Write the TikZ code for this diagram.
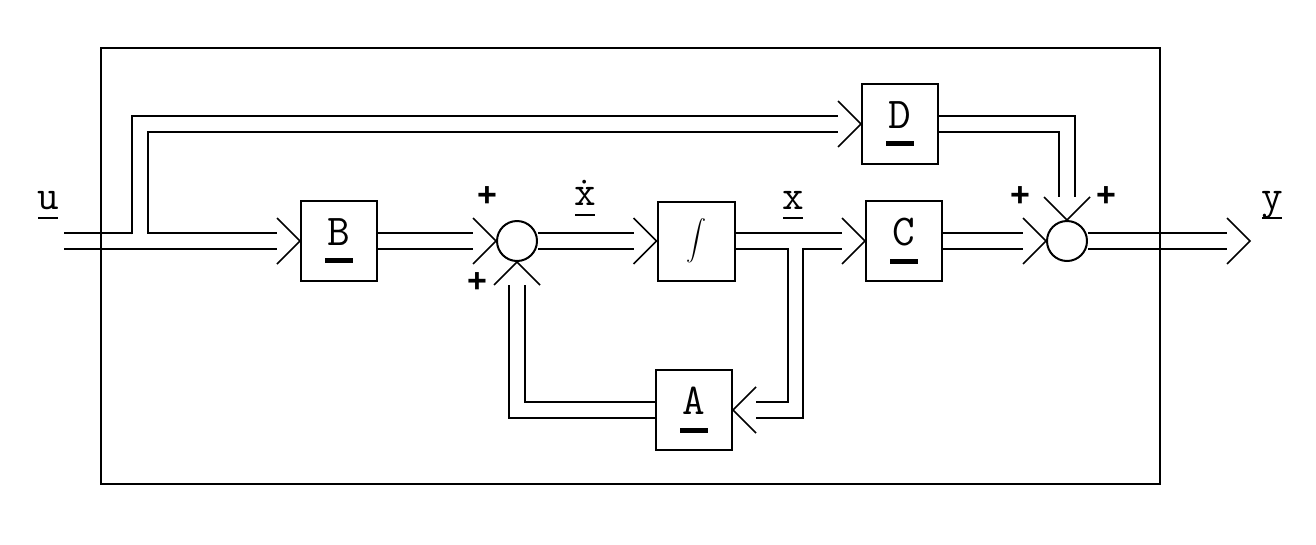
\documentclass[tikz,border=0pt]{standalone}
\usepackage{fontspec}
\usepackage{graphicx}
\newfontfamily\lmono{Liberation Mono}
\usetikzlibrary{calc}
% signal name with a thin underline (vector quantity)
\newcommand\ulab[1]{\vbox{\offinterlineskip
  \hbox to 24pt{\hss\raisebox{0pt}[\height][0pt]{#1}\hss}\kern8pt
  \hbox to 24pt{\hss\rule{20pt}{2pt}\hss}}}
% matrix name with a heavy bar beneath it
\newcommand\mlab[1]{\vbox{\offinterlineskip
  \hbox to 30pt{\hss\raisebox{0pt}[\height][0pt]{#1}\hss}\kern13pt
  \hbox to 30pt{\hss\rule{28pt}{5pt}\hss}}}
\begin{document}
\begin{tikzpicture}[x=1pt, y=-1pt, line width=2pt,
  blk/.style={draw, minimum width=76pt, minimum height=80pt, inner sep=0pt,
    font=\ttfamily\fontsize{44}{44}\selectfont},
  sumj/.style={draw, circle, minimum size=40pt, inner sep=0pt},
  dbl/.style={double, double distance=13.5pt, line width=2pt},
  lab/.style={inner sep=0pt, font=\ttfamily\fontsize{42}{42}\selectfont},
  sgn/.style={inner sep=0pt, font=\lmono\bfseries\fontsize{34}{34}\selectfont},
  chev/.pic={\draw[line width=1.6pt] (-23,23) -- (0,0) -- (-23,-23);}
]
\useasboundingbox (0,0) rectangle (1316,544);

% blocks
\node[blk] (B) at (339,241) {\mlab{B}};
\node[blk, minimum width=77pt, minimum height=79pt] (I) at (696,241)
  {\scalebox{2}{$\displaystyle\int$}};
\node[blk] (C) at (904,241) {\mlab{C}};
\node[blk] (D) at (900,124) {\mlab{D}};
\node[blk] (A) at (694,410) {\mlab{A}};

% summing junctions
\node[sumj] (S1) at (517,241) {};
\node[sumj] (S2) at (1067,241) {};

% free ends and branch points
\coordinate (in) at (64,241);
\coordinate (out) at (1250,241);
\coordinate (sp) at (140,234.25);
\coordinate (tp) at (795.5,247.75);

% input to B, with the feed-through branch to D
\draw[dbl] (in) -- ([xshift=-23pt]B.west);
\pic at (B.west) {chev};
\draw[dbl] (sp) |- ([xshift=-23pt]D.west);
\pic at (D.west) {chev};

% forward path
\draw[dbl] (B.east) -- ([xshift=-23pt]S1.west);
\pic at (S1.west) {chev};
\draw[dbl] (S1.east) -- ([xshift=-23pt]I.west);
\pic at (I.west) {chev};
\draw[dbl] (I.east) -- ([xshift=-23pt]C.west);
\pic at (C.west) {chev};

% state feedback through A
\draw[dbl] (tp) |- ([xshift=23pt]A.east);
\pic[rotate=180] at (A.east) {chev};
\draw[dbl] (A.west) -| ([yshift=-23pt]S1.south);
\pic[rotate=90] at (S1.south) {chev};

% output summation
\draw[dbl] (C.east) -- ([xshift=-23pt]S2.west);
\pic at (S2.west) {chev};
\draw[dbl] (D.east) -| ([yshift=23pt]S2.north);
\pic[rotate=-90] at (S2.north) {chev};
\draw[dbl] (S2.east) -- ([xshift=-23pt]out);
\pic at (out) {chev};

% signal names
\node[lab] (lu) at (48,205) {\ulab{u}};
\node[lab] (lxd) at (585,198) {\ulab{\.{x}}};
\node[lab] (lx) at (793,205) {\ulab{x}};
\node[lab] (ly) at (1272,205) {\ulab{y}};

% signs at the junction inputs
\node[sgn] (p1) at (487,197) {+};
\node[sgn] (p2) at (477,283) {+};
\node[sgn] (p3) at (1020,197) {+};
\node[sgn] (p4) at (1106,197) {+};

% system boundary
\draw (101,48) rectangle (1160,484);
\end{tikzpicture}
\end{document}
